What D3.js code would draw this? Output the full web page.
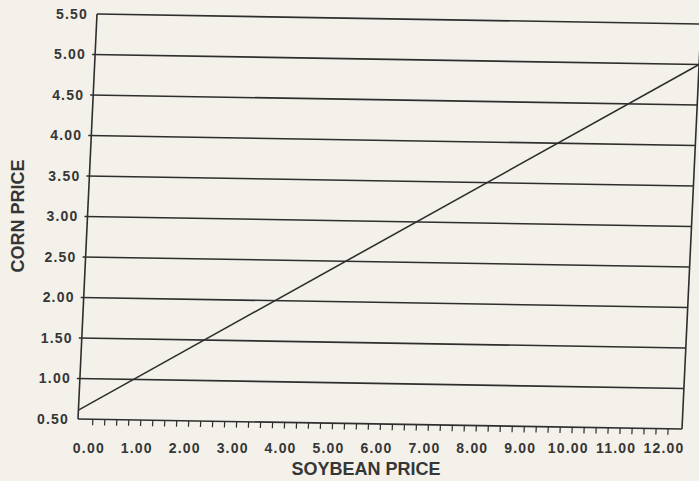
<!DOCTYPE html>
<html>
<head>
<meta charset="utf-8">
<script src="https://cdn.jsdelivr.net/npm/d3@7"></script>
<style>
  body { margin: 0; background: #f3f1ea; }
  svg { display: block; }
  text { font-family: "Liberation Sans", Arial, sans-serif; font-weight: bold; fill: #363636; }
</style>
</head>
<body>
<svg width="699" height="481"></svg>
<script>
// values
var cornTicks = [0.5, 1.0, 1.5, 2.0, 2.5, 3.0, 3.5, 4.0, 4.5, 5.0, 5.5];
var soyTicks = [0, 1, 2, 3, 4, 5, 6, 7, 8, 9, 10, 11, 12];
var soyMinor = d3.range(0, 12.001, 0.25);
// the one line on the chart, end points at the frame edges
var lineSoy = [-0.31, 12.29];
var lineCorn = [0.61, 5.0];

var svg = d3.select("svg");
var W = 604, H = 405;
var ink = "#2e2e2e";

// the scan is a little skewed, so the frame goes through an affine matrix
var m = { a: 1, b: 10 / 604, c: -19 / 405, d: 1, e: 97, f: 14 };
function P(u, v) { return [m.a * u + m.c * v + m.e, m.b * u + m.d * v + m.f]; }

var x = d3.scaleLinear().domain([-0.31, 12.29]).range([0, W]);
var y = d3.scaleLinear().domain([0.5, 5.5]).range([H, 0]);

var g = svg.append("g")
    .attr("transform", "matrix(" + [m.a, m.b, m.c, m.d, m.e, m.f].join(",") + ")");

// horizontal grid
g.append("g").selectAll("line")
  .data(cornTicks)
  .enter().append("line")
    .attr("x1", d => (d === 5.5 || d === 0.5) ? 0 : -3)
    .attr("x2", W)
    .attr("y1", d => y(d))
    .attr("y2", d => y(d))
    .attr("stroke", ink)
    .attr("stroke-width", 1.6);

// frame sides
g.append("line").attr("x1", 0).attr("x2", 0).attr("y1", 0).attr("y2", H)
  .attr("stroke", ink).attr("stroke-width", 1.6);
g.append("line").attr("x1", W).attr("x2", W).attr("y1", 0).attr("y2", H)
  .attr("stroke", ink).attr("stroke-width", 1.6);

// ticks under the soybean axis
g.append("g").selectAll("line")
  .data(soyMinor)
  .enter().append("line")
    .attr("x1", d => x(d)).attr("x2", d => x(d))
    .attr("y1", H).attr("y2", H + 6)
    .attr("stroke", ink)
    .attr("stroke-width", 1.2);

// the price line
var pts = lineSoy.map((s, i) => [s, lineCorn[i]]);
g.append("path")
  .datum(pts)
  .attr("fill", "none")
  .attr("stroke", ink)
  .attr("stroke-width", 1.6)
  .attr("d", d3.line().x(d => x(d[0])).y(d => y(d[1])));

// corn labels
svg.append("g").selectAll("text")
  .data(cornTicks)
  .enter().append("text")
    .attr("x", d => P(-9, y(d))[0])
    .attr("y", d => P(-9, y(d))[1])
    .attr("dy", "0.36em")
    .attr("text-anchor", "end")
    .style("font-size", "14px")
    .style("letter-spacing", "1.2px")
    .text(d => d.toFixed(2));

// soybean labels
svg.append("g").selectAll("text")
  .data(soyTicks)
  .enter().append("text")
    .attr("x", d => P(x(d), H)[0] - 4)
    .attr("y", 453)
    .attr("text-anchor", "middle")
    .style("font-size", "14px")
    .style("letter-spacing", "1.2px")
    .text(d => d.toFixed(2));

// axis titles
svg.append("text")
  .attr("transform", "translate(24,216) rotate(-90)")
  .attr("text-anchor", "middle")
  .style("font-size", "18px")
  .text("CORN PRICE");

svg.append("text")
  .attr("x", 366)
  .attr("y", 475)
  .attr("text-anchor", "middle")
  .style("font-size", "18px")
  .text("SOYBEAN PRICE");
</script>
</body>
</html>
